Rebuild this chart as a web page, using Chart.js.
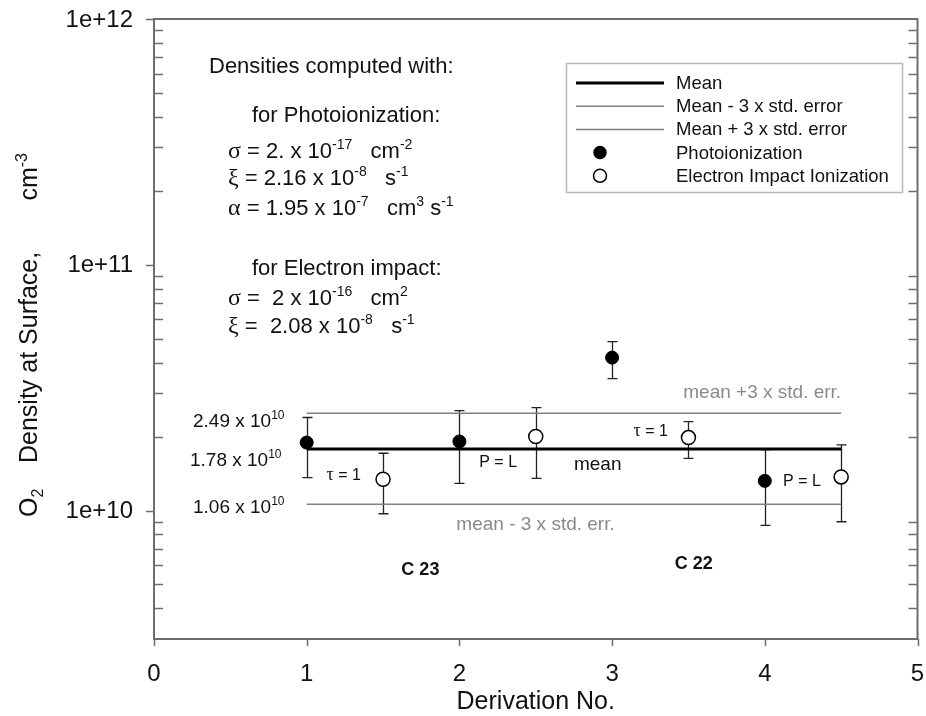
<!DOCTYPE html>
<html>
<head>
<meta charset="utf-8">
<script src="https://cdn.jsdelivr.net/npm/chart.js@4.4.0/dist/chart.umd.min.js"></script>
<style>
  html, body { margin: 0; padding: 0; background: #fff; }
  #wrap { width: 926px; height: 716px; }
</style>
</head>
<body>
<div id="wrap"><canvas id="chart" width="926" height="716"></canvas></div>
<script>
// values
const photoX = [1, 2, 3, 4];
const photoY = [1.89e10, 1.91e10, 4.19e10, 1.32e10];
const photoHi = [2.39e10, 2.55e10, 4.87e10, 1.77e10];
const photoLo = [1.36e10, 1.29e10, 3.44e10, 8.7e9];

const impactX = [1.5, 2.5, 3.5, 4.5];
const impactY = [1.34e10, 2.00e10, 1.98e10, 1.37e10];
const impactHi = [1.71e10, 2.62e10, 2.30e10, 1.85e10];
const impactLo = [9.7e9, 1.35e10, 1.63e10, 9.0e9];

const meanValue = 1.78e10;
const meanMinus = 1.06e10;
const meanPlus = 2.49e10;
const lineSpan = [1, 4.5];

const xTicks = [0, 1, 2, 3, 4, 5];
const yDecades = [1e10, 1e11, 1e12];
const yTickLabels = ['1e+10', '1e+11', '1e+12'];
const yMin = 3e9;
const yMax = 1e12;

const SANS = '"Liberation Sans", Arial, sans-serif';
const SERIF = '"Liberation Serif", "Times New Roman", serif';
const FRAME = '#6e6e6e';
const GRAY_LINE = '#808080';
const GRAY_TEXT = '#8a8a8a';

/**
 * Text runs are lists of [text, kind]:
 * '' normal, 'g' greek (serif), '^' superscript, '_' subscript
 */
function fontFor(kind, size) {
    if (kind === '^' || kind === '_') return Math.round(size * 0.65) + 'px ' + SANS;
    if (kind === 'g') return (size + 2) + 'px ' + SERIF;
    return size + 'px ' + SANS;
}

function richWidth(ctx, parts, size) {
    let w = 0;
    parts.forEach(([t, k]) => {
        ctx.font = fontFor(k, size);
        w += ctx.measureText(t).width;
    });
    return w;
}

function drawRich(ctx, x, cy, parts, size, color) {
    const base = cy + size * 0.36;
    ctx.fillStyle = color;
    ctx.textAlign = 'left';
    ctx.textBaseline = 'alphabetic';
    parts.forEach(([t, k]) => {
        ctx.font = fontFor(k, size);
        let y = base;
        if (k === '^') y = base - size * 0.42;
        if (k === '_') y = base + size * 0.22;
        ctx.fillText(t, x, y);
        x += ctx.measureText(t).width;
    });
    return x;
}

// frame, ticks and tick labels
const axesPlugin = {
    id: 'axesFrame',
    afterDraw(chart) {
        const { ctx, chartArea: a, scales } = chart;
        const xs = scales.x, ys = scales.y;
        ctx.save();
        ctx.strokeStyle = FRAME;
        ctx.lineWidth = 2;
        ctx.strokeRect(a.left, a.top, a.right - a.left, a.bottom - a.top);

        ctx.lineWidth = 1.5;
        ctx.beginPath();
        // minor ticks, inside on both sides
        for (let e = 9; e <= 11; e++) {
            for (let m = 2; m <= 9; m++) {
                const v = m * Math.pow(10, e);
                if (v <= yMin || v >= yMax) continue;
                const py = Math.round(ys.getPixelForValue(v)) + 0.5;
                ctx.moveTo(a.left, py); ctx.lineTo(a.left + 9, py);
                ctx.moveTo(a.right, py); ctx.lineTo(a.right - 9, py);
            }
        }
        // major ticks, outside
        yDecades.forEach(v => {
            const py = Math.round(ys.getPixelForValue(v)) + 0.5;
            ctx.moveTo(a.left - 8, py); ctx.lineTo(a.left, py);
        });
        xTicks.forEach(v => {
            const px = Math.round(xs.getPixelForValue(v)) + 0.5;
            ctx.moveTo(px, a.bottom); ctx.lineTo(px, a.bottom + 7);
        });
        ctx.stroke();

        ctx.fillStyle = '#111';
        ctx.font = '24px ' + SANS;
        ctx.textBaseline = 'middle';
        ctx.textAlign = 'right';
        yDecades.forEach((v, i) => {
            ctx.fillText(yTickLabels[i], a.left - 21, ys.getPixelForValue(v) + 1);
        });
        ctx.textAlign = 'center';
        xTicks.forEach(v => {
            ctx.fillText(String(v), xs.getPixelForValue(v), a.bottom + 35);
        });

        // axis titles
        ctx.font = '25px ' + SANS;
        ctx.fillText('Derivation No.', (a.left + a.right) / 2, a.bottom + 63);

        ctx.translate(28, 335);
        ctx.rotate(-Math.PI / 2);
        const sz = 25;
        drawRich(ctx, -182, 0, [['O', ''], ['2', '_']], sz, '#111');
        const end = drawRich(ctx, -128, 0, [['Density at Surface,', '']], sz, '#111');
        const cmW = richWidth(ctx, [['cm', ''], ['-3', '^']], sz);
        drawRich(ctx, Math.max(end + 30, 182 - cmW), 0, [['cm', ''], ['-3', '^']], sz, '#111');
        ctx.restore();

        drawLegend(ctx);
    }
};

function drawLegend(ctx) {
    const left = 566, top = 63, right = 902, bottom = 192;
    ctx.save();
    ctx.fillStyle = '#fff';
    ctx.fillRect(left, top, right - left, bottom - top);
    ctx.strokeStyle = '#b8b8b8';
    ctx.lineWidth = 1.5;
    ctx.strokeRect(left + 0.5, top + 0.5, right - left, bottom - top);
    const rows = [
        { label: 'Mean', kind: 'line', color: '#000', width: 3 },
        { label: 'Mean - 3 x std. error', kind: 'line', color: GRAY_LINE, width: 1.5 },
        { label: 'Mean + 3 x std. error', kind: 'line', color: GRAY_LINE, width: 1.5 },
        { label: 'Photoionization', kind: 'filled' },
        { label: 'Electron Impact Ionization', kind: 'open' }
    ];
    const sx0 = left + 10, sx1 = 664, tx = 676;
    rows.forEach((r, i) => {
        const y = 83 + i * 23.2;
        if (r.kind === 'line') {
            ctx.strokeStyle = r.color;
            ctx.lineWidth = r.width;
            ctx.beginPath();
            ctx.moveTo(sx0, y); ctx.lineTo(sx1, y);
            ctx.stroke();
        } else {
            ctx.beginPath();
            ctx.arc(sx0 + 24, y, r.kind === 'filled' ? 6 : 6.5, 0, Math.PI * 2);
            ctx.fillStyle = r.kind === 'filled' ? '#000' : '#fff';
            ctx.fill();
            ctx.strokeStyle = '#000';
            ctx.lineWidth = 1.5;
            ctx.stroke();
        }
        ctx.fillStyle = '#111';
        ctx.font = '18.5px ' + SANS;
        ctx.textAlign = 'left';
        ctx.textBaseline = 'middle';
        ctx.fillText(r.label, tx, y + 1);
    });
    ctx.restore();
}

// error bars under the markers
const errorBarPlugin = {
    id: 'errorBars',
    beforeDatasetsDraw(chart) {
        const { ctx, scales } = chart;
        const xs = scales.x, ys = scales.y;
        ctx.save();
        ctx.strokeStyle = '#222';
        ctx.lineWidth = 1.3;
        const bar = (x, lo, hi) => {
            const px = Math.round(xs.getPixelForValue(x)) + 0.5;
            const p1 = ys.getPixelForValue(lo), p2 = ys.getPixelForValue(hi);
            ctx.beginPath();
            ctx.moveTo(px, p1); ctx.lineTo(px, p2);
            ctx.moveTo(px - 5, p1); ctx.lineTo(px + 5, p1);
            ctx.moveTo(px - 5, p2); ctx.lineTo(px + 5, p2);
            ctx.stroke();
        };
        photoX.forEach((x, i) => bar(x, photoLo[i], photoHi[i]));
        impactX.forEach((x, i) => bar(x, impactLo[i], impactHi[i]));
        ctx.restore();
    }
};

// text notes inside the plot
const notesPlugin = {
    id: 'notes',
    afterDatasetsDraw(chart) {
        const { ctx, scales } = chart;
        const xs = scales.x, ys = scales.y;
        const X = v => xs.getPixelForValue(v);
        const Y = v => ys.getPixelForValue(v);
        ctx.save();

        // parameter block
        const s = 22, c = '#111';
        drawRich(ctx, 209, 65, [['Densities computed with:', '']], s, c);
        drawRich(ctx, 252, 114, [['for Photoionization:', '']], s, c);
        drawRich(ctx, 228, 150, [['σ', 'g'], [' = 2. x 10', ''], ['-17', '^'], ['   cm', ''], ['-2', '^']], s, c);
        drawRich(ctx, 228, 177, [['ξ', 'g'], [' = 2.16 x 10', ''], ['-8', '^'], ['   s', ''], ['-1', '^']], s, c);
        drawRich(ctx, 228, 207, [['α', 'g'], [' = 1.95 x 10', ''], ['-7', '^'], ['   cm', ''], ['3', '^'], [' s', ''], ['-1', '^']], s, c);
        drawRich(ctx, 252, 267, [['for Electron impact:', '']], s, c);
        drawRich(ctx, 228, 297, [['σ', 'g'], [' =  2 x 10', ''], ['-16', '^'], ['   cm', ''], ['2', '^']], s, c);
        drawRich(ctx, 228, 325, [['ξ', 'g'], [' =  2.08 x 10', ''], ['-8', '^'], ['   s', ''], ['-1', '^']], s, c);

        // mean value labels
        drawRich(ctx, 193, Y(meanPlus) + 7, [['2.49 x 10', ''], ['10', '^']], 19, c);
        drawRich(ctx, 190, Y(meanValue) + 10, [['1.78 x 10', ''], ['10', '^']], 19, c);
        drawRich(ctx, 193, Y(meanMinus) + 2, [['1.06 x 10', ''], ['10', '^']], 19, c);

        ctx.textBaseline = 'middle';
        ctx.font = '19px ' + SANS;
        ctx.fillStyle = GRAY_TEXT;
        ctx.textAlign = 'right';
        ctx.fillText('mean +3 x std. err.', X(4.5), Y(3.02e10));
        ctx.textAlign = 'left';
        ctx.fillText('mean - 3 x std. err.', X(1.98), Y(8.77e9));

        ctx.fillStyle = '#111';
        ctx.fillText('mean', X(2.75), Y(1.54e10));
        ctx.font = '16px ' + SANS;
        ctx.fillText('P = L', X(2.13), Y(1.57e10));
        ctx.fillText('P = L', X(4.12), Y(1.31e10));
        drawRich(ctx, X(1.13), Y(1.40e10), [['τ', 'g'], [' = 1', '']], 16, c);
        drawRich(ctx, X(3.14), Y(2.13e10), [['τ', 'g'], [' = 1', '']], 16, c);

        ctx.font = 'bold 18px ' + SANS;
        ctx.fillStyle = '#111';
        ctx.textAlign = 'left';
        ctx.textBaseline = 'middle';
        ctx.fillText('C 23', X(1.62), Y(5.75e9));
        ctx.fillText('C 22', X(3.41), Y(6.03e9));
        ctx.restore();
    }
};

const flat = v => lineSpan.map(x => ({ x, y: v }));

new Chart(document.getElementById('chart'), {
    type: 'scatter',
    data: {
        datasets: [
            { type: 'line', label: 'Mean', data: flat(meanValue), borderColor: '#000', borderWidth: 3, pointRadius: 0, order: 3 },
            { type: 'line', label: 'Mean - 3 x std. error', data: flat(meanMinus), borderColor: GRAY_LINE, borderWidth: 1.5, pointRadius: 0, order: 4 },
            { type: 'line', label: 'Mean + 3 x std. error', data: flat(meanPlus), borderColor: GRAY_LINE, borderWidth: 1.5, pointRadius: 0, order: 4 },
            {
                label: 'Photoionization',
                data: photoX.map((x, i) => ({ x, y: photoY[i] })),
                pointRadius: 6.5, backgroundColor: '#000', borderColor: '#000', borderWidth: 1, order: 1
            },
            {
                label: 'Electron Impact Ionization',
                data: impactX.map((x, i) => ({ x, y: impactY[i] })),
                pointRadius: 7, backgroundColor: '#fff', borderColor: '#000', borderWidth: 1.5, order: 0
            }
        ]
    },
    options: {
        responsive: false,
        animation: false,
        devicePixelRatio: 1,
        layout: { padding: { left: 154, right: 6, top: 19, bottom: 77 } },
        plugins: { legend: { display: false }, tooltip: { enabled: false } },
        scales: {
            x: { type: 'linear', min: 0, max: 5, display: false },
            y: { type: 'logarithmic', min: yMin, max: yMax, display: false }
        }
    },
    plugins: [errorBarPlugin, notesPlugin, axesPlugin]
});
</script>
</body>
</html>
